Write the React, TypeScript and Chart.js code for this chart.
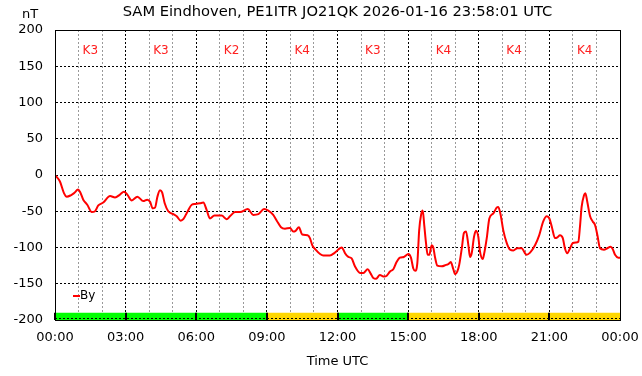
import React, { useEffect, useRef } from "react";
import { Chart, registerables } from "chart.js";

Chart.register(...registerables);

const TITLE = "SAM Eindhoven, PE1ITR JO21QK 2026-01-16 23:58:01 UTC";
const Y_UNIT = "nT";
const X_TITLE = "Time UTC";
const SERIES_NAME = "By";

// K-index per 3-hour block
const kBlockStart = [0, 3, 6, 9, 12, 15, 18, 21];
const kBlockHours = 3;
const kValues = [3, 3, 2, 4, 3, 4, 4, 4];

// time in hours (UTC) and By in nT
const timeHours = [
  0.0, 0.21, 0.38, 0.5, 0.67, 0.81, 0.98, 1.06, 1.2, 1.37, 1.56, 1.7, 1.84, 2.05, 2.34, 2.55, 2.76, 2.93,
  3.07, 3.26, 3.5, 3.75, 3.92, 4.04, 4.15, 4.25, 4.35, 4.46, 4.55, 4.66, 4.81, 5.03, 5.17, 5.34, 5.45, 5.62,
  5.81, 5.95, 6.16, 6.3, 6.44, 6.58, 6.77, 7.08, 7.29, 7.43, 7.65, 7.86, 8.19, 8.42, 8.64, 8.88, 9.06, 9.27,
  9.42, 9.6, 9.77, 9.98, 10.12, 10.22, 10.36, 10.5, 10.73, 10.83, 10.93, 11.07, 11.26, 11.4, 11.68, 11.89,
  12.18, 12.25, 12.32, 12.46, 12.6, 12.74, 12.96, 13.1, 13.28, 13.41, 13.52, 13.64, 13.8, 13.98, 14.09, 14.23,
  14.37, 14.51, 14.65, 14.82, 15.01, 15.12, 15.22, 15.3, 15.39, 15.47, 15.55, 15.62, 15.69, 15.76, 15.83,
  15.9, 16.0, 16.07, 16.14, 16.24, 16.43, 16.61, 16.71, 16.81, 16.92, 17.0, 17.09, 17.17, 17.28, 17.37,
  17.46, 17.56, 17.63, 17.7, 17.8, 17.88, 17.98, 18.05, 18.17, 18.22, 18.34, 18.45, 18.62, 18.76, 18.83,
  18.93, 19.04, 19.19, 19.33, 19.47, 19.64, 19.82, 20.03, 20.18, 20.39, 20.57, 20.74, 20.89, 21.0, 21.1,
  21.24, 21.34, 21.45, 21.57, 21.66, 21.76, 21.88, 21.99, 22.13, 22.23, 22.3, 22.37, 22.47, 22.53, 22.61,
  22.73, 22.84, 22.94, 23.04, 23.15, 23.32, 23.46, 23.6, 23.69, 23.79, 23.93, 24.0,
];

const byValues = [
  0, -9, -25, -30, -28, -25, -20, -23, -34, -41, -51, -50, -42, -38, -29, -31, -27, -23,
  -27, -35, -30, -36, -34, -37, -46, -45, -30, -21, -24, -39, -50, -54, -57, -63, -61, -51,
  -41, -40, -39, -38, -48, -60, -56, -56, -61, -57, -51, -51, -47, -55, -54, -47, -49, -55,
  -63, -72, -74, -73, -78, -77, -72, -82, -83, -87, -97, -103, -109, -111, -111, -107,
  -100, -103, -108, -113, -115, -126, -135, -135, -130, -136, -142, -143, -138, -140, -139, -133,
  -130, -120, -114, -113, -109, -114, -129, -132, -122, -76, -55, -49, -71, -94, -110,
  -110, -97, -100, -113, -125, -126, -124, -123, -120, -130, -137, -133, -124, -101, -80,
  -78, -97, -113, -108, -85, -77, -85, -105, -116, -110, -87, -60, -53, -45, -44,
  -55, -76, -94, -103, -104, -101, -101, -110, -107, -97, -83, -64, -57, -60, -71,
  -87, -86, -83, -87, -101, -108, -101, -94, -93, -92, -71, -44, -28, -25, -37,
  -57, -64, -69, -83, -101, -103, -101, -99, -102, -110, -114, -114,
];

const yTicksMin = -200;
const yTicksMax = 200;
const yStep = 50;
const kBarRange = [-200, -190];

const FONT = "'DejaVu Sans', sans-serif";

const hourLabel = (v: number) => `${String(v % 24).padStart(2, "0")}:00`;

const kBarsPlugin = {
  id: "kbars",
  beforeDatasetsDraw(chart: any) {
    const { ctx, scales } = chart;
    const xs = scales.x;
    const ys = scales.y;
    const yTop = ys.getPixelForValue(kBarRange[1]);
    const yBot = ys.getPixelForValue(kBarRange[0]);
    ctx.save();
    kValues.forEach((k, i) => {
      const x0 = xs.getPixelForValue(kBlockStart[i]);
      const x1 = xs.getPixelForValue(kBlockStart[i] + kBlockHours);
      ctx.fillStyle = k >= 4 ? "#ffd700" : "#00ff00";
      ctx.fillRect(x0, yTop, x1 - x0, yBot - yTop);
    });
    // dotted baseline over the bars
    ctx.strokeStyle = "#000";
    ctx.lineWidth = 1;
    ctx.setLineDash([2, 2]);
    ctx.beginPath();
    ctx.moveTo(xs.getPixelForValue(0), Math.round(yBot) - 1.5);
    ctx.lineTo(xs.getPixelForValue(24), Math.round(yBot) - 1.5);
    ctx.stroke();
    ctx.setLineDash([]);
    ctx.lineWidth = 2;
    kBlockStart.forEach((s) => {
      const x = Math.round(xs.getPixelForValue(s));
      ctx.beginPath();
      ctx.moveTo(x, yTop);
      ctx.lineTo(x, yBot);
      ctx.stroke();
    });
    ctx.restore();
  },
};

const overlayPlugin = {
  id: "overlay",
  afterDatasetsDraw(chart: any) {
    const { ctx, chartArea, scales } = chart;
    const xs = scales.x;
    ctx.save();
    // frame
    ctx.strokeStyle = "#000";
    ctx.lineWidth = 1;
    ctx.setLineDash([]);
    ctx.strokeRect(chartArea.left + 0.5, chartArea.top + 0.5, chartArea.right - chartArea.left, chartArea.bottom - chartArea.top);
    // K labels
    ctx.fillStyle = "#ff2020";
    ctx.font = `12px ${FONT}`;
    ctx.textAlign = "center";
    ctx.textBaseline = "middle";
    kValues.forEach((k, i) => {
      ctx.fillText(`K${k}`, xs.getPixelForValue(kBlockStart[i] + kBlockHours / 2), chartArea.top + 21);
    });
    // legend
    const lx = chartArea.left + 18;
    const ly = chartArea.bottom - 24;
    ctx.strokeStyle = "#ff0000";
    ctx.lineWidth = 2;
    ctx.beginPath();
    ctx.moveTo(lx, ly);
    ctx.lineTo(lx + 7, ly);
    ctx.stroke();
    ctx.fillStyle = "#000";
    ctx.font = `12px ${FONT}`;
    ctx.textAlign = "left";
    ctx.fillText(SERIES_NAME, lx + 7, ly);
    // titles
    const cx = (chartArea.left + chartArea.right) / 2;
    ctx.font = `14.7px ${FONT}`;
    ctx.textAlign = "center";
    ctx.fillText(TITLE, cx, 12);
    ctx.font = `13px ${FONT}`;
    ctx.fillText(Y_UNIT, 30, 15);
    ctx.fillText(X_TITLE, cx, 362);
    ctx.restore();
  },
};

function ChartView() {
  const ref = useRef<HTMLCanvasElement | null>(null);
  useEffect(() => {
    document.body.style.margin = "0";
    const canvas = ref.current!;
    const lineData = timeHours.map((t, i) => ({ x: t, y: byValues[i] }));
    const chart = new Chart(canvas, {
      type: "line",
      data: {
        datasets: [
          {
            label: SERIES_NAME,
            data: lineData,
            borderColor: "#ff0000",
            borderWidth: 2,
            pointRadius: 0,
            cubicInterpolationMode: "monotone",
            fill: false,
          } as any,
        ],
      },
      options: {
        responsive: false,
        animation: false,
        layout: { padding: { top: 30, right: 22, left: 0, bottom: 0 } },
        plugins: { legend: { display: false }, tooltip: { enabled: false }, title: { display: false } },
        scales: {
          x: {
            type: "linear",
            min: 0,
            max: 24,
            offset: false,
            afterFit: (s: any) => {
              s.height = 56;
              s.paddingLeft = 0;
              s.paddingRight = 0;
            },
            grid: {
              offset: false,
              drawTicks: false,
              lineWidth: 1,
              color: (c: any) => (c.tick && c.tick.value % 3 === 0 ? "#000" : "#999"),
            },
            border: { display: true, color: "#000", dash: [2, 2] },
            ticks: {
              stepSize: 1,
              autoSkip: false,
              maxRotation: 0,
              padding: 10,
              color: "#000",
              font: { family: FONT, size: 13 },
              callback: (v: any) => (Number(v) % 3 === 0 ? hourLabel(Number(v)) : ""),
            },
          },
          y: {
            type: "linear",
            min: yTicksMin,
            max: yTicksMax,
            afterFit: (s: any) => {
              s.width = 55;
              s.paddingTop = 0;
              s.paddingBottom = 0;
            },
            grid: { drawTicks: false, color: "#000", lineWidth: 1 },
            border: { display: true, color: "#000", dash: [2, 2] },
            ticks: {
              stepSize: yStep,
              padding: 12,
              color: "#000",
              font: { family: FONT, size: 13 },
            },
          },
        },
      },
      plugins: [kBarsPlugin, overlayPlugin],
    });
    return () => chart.destroy();
  }, []);
  return <canvas ref={ref} width={642} height={376} style={{ display: "block" }} />;
}

export default function App() {
  return <ChartView />;
}
